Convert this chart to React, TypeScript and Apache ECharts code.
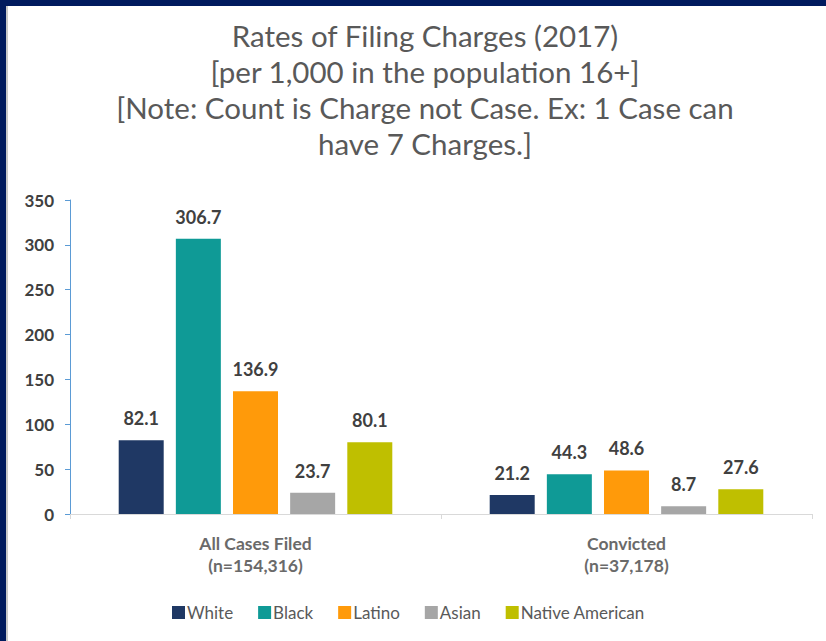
import React, { useEffect, useRef } from "react";
import * as echarts from "echarts";

const categories = ["All Cases Filed\n(n=154,316)", "Convicted\n(n=37,178)"];
const seriesNames = ["White", "Black", "Latino", "Asian", "Native American"];
const white = [82.1, 21.2];
const black = [306.7, 44.3];
const latino = [136.9, 48.6];
const asian = [23.7, 8.7];
const nativeAmerican = [80.1, 27.6];
const seriesValues = [white, black, latino, asian, nativeAmerican];
const colors = ["#1f3864", "#0f9a96", "#ff9a0a", "#a6a6a6", "#bfbf00"];
const titleLines = [
  "Rates of Filing Charges (2017)",
  "[per 1,000 in the population 16+]",
  "[Note: Count is Charge not Case. Ex: 1 Case can",
  "have 7 Charges.]",
];

const FONT = "Lato, 'Noto Sans', sans-serif";

export default function App() {
  const ref = useRef<HTMLDivElement>(null);
  useEffect(() => {
    if (!ref.current) return;
    const chart = echarts.init(ref.current, undefined, { renderer: "svg" });
    chart.setOption({
      animation: false,
      backgroundColor: "#ffffff",
      textStyle: { fontFamily: FONT },
      title: {
        text: titleLines.join("\n"),
        left: 420,
        top: 12,
        textAlign: "center",
        textStyle: {
          fontFamily: FONT,
          fontSize: 29.5,
          fontWeight: "normal",
          color: "#595959",
          lineHeight: 36,
        },
      },
      graphic: [
        { type: "rect", shape: { x: 0, y: 0, width: 826, height: 6 }, style: { fill: "#001a5e" }, z: 100 },
        { type: "rect", shape: { x: 0, y: 0, width: 6, height: 641 }, style: { fill: "#001a5e" }, z: 100 },
        { type: "rect", shape: { x: 6, y: 6, width: 2, height: 635 }, style: { fill: "#c8c8c8" }, z: 100 },
      ],
      legend: {
        data: seriesNames,
        left: 167,
        top: 599,
        itemWidth: 13,
        itemHeight: 13,
        itemGap: 25,
        icon: "rect",
        textStyle: { fontFamily: FONT, fontSize: 17, color: "#595959", padding: [0, 0, 0, -3] },
      },
      grid: { left: 70, right: 14, top: 200, bottom: 127 },
      xAxis: {
        type: "category",
        data: categories,
        axisLine: { show: true, lineStyle: { color: "#d9d9d9", width: 1 } },
        axisTick: { show: true, length: 5, lineStyle: { color: "#d9d9d9" }, interval: 0 },
        axisLabel: {
          fontFamily: FONT,
          fontSize: 17.5,
          fontWeight: "bold",
          color: "#6a6a6a",
          lineHeight: 22,
          margin: 18,
        },
      },
      yAxis: {
        type: "value",
        min: 0,
        max: 350,
        interval: 50,
        axisLine: { show: true, lineStyle: { color: "#5b9bd5", width: 1 } },
        axisTick: { show: true, length: 5, lineStyle: { color: "#5b9bd5" } },
        splitLine: { show: false },
        axisLabel: { fontFamily: FONT, fontSize: 17, fontWeight: "bold", color: "#404040", margin: 16 },
      },
      series: seriesNames.map((name, i) => ({
        name,
        type: "bar",
        data: seriesValues[i],
        barWidth: 45,
        barGap: "27%",
        itemStyle: { color: colors[i] },
        label: {
          show: true,
          position: "top",
          distance: 13,
          fontFamily: FONT,
          fontSize: 18,
          fontWeight: "bold",
          color: "#404040",
          formatter: (p: any) => Number(p.value).toFixed(1),
        },
      })),
    });
    return () => chart.dispose();
  }, []);
  return (
    <div
      ref={ref}
      style={{ position: "fixed", left: 0, top: 0, width: 826, height: 641 }}
    />
  );
}
